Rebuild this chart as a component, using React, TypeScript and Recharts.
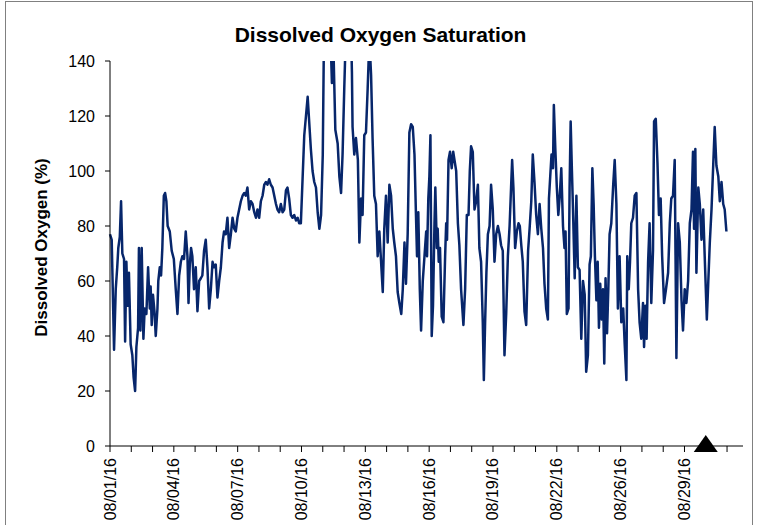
import { Line, LineChart, ReferenceDot, XAxis, YAxis } from "recharts"

// time in days since 08/01/16 00:00
const days = [
    0.00, 0.08, 0.19, 0.27, 0.34, 0.39, 0.46, 0.52, 0.58, 0.66, 0.71, 0.77, 0.83, 0.89, 0.97, 1.05, 1.11, 1.18, 1.24, 1.32,
    1.36, 1.43, 1.49, 1.57, 1.63, 1.71, 1.79, 1.87, 1.91, 1.96, 2.02, 2.09, 2.15, 2.23, 2.27, 2.34, 2.40, 2.46, 2.53, 2.59,
    2.65, 2.71, 2.81, 2.90, 3.00, 3.09, 3.17, 3.25, 3.33, 3.40, 3.48, 3.56, 3.64, 3.69, 3.75, 3.81, 3.87, 3.95, 4.03, 4.11,
    4.19, 4.27, 4.34, 4.42, 4.50, 4.58, 4.66,
    4.74, 4.82, 4.89, 4.97, 5.05, 5.13, 5.21, 5.29, 5.36, 5.44, 5.52, 5.60, 5.68, 5.76, 5.84, 5.91, 5.99, 6.07, 6.15, 6.23,
    6.31, 6.38, 6.46, 6.54, 6.62, 6.70, 6.78, 6.86, 6.93, 7.01, 7.09, 7.17, 7.25, 7.33, 7.40, 7.48, 7.56, 7.64, 7.72, 7.80,
    7.87, 7.95, 8.03, 8.11, 8.19, 8.27, 8.34, 8.42, 8.50, 8.58, 8.66, 8.74, 8.82, 8.89, 8.97, 9.05, 9.13, 9.21, 9.29,
    9.44, 9.52, 9.60, 9.68, 9.76, 9.84, 9.92, 10.00, 10.05, 10.15, 10.28, 10.36, 10.43, 10.50, 10.59, 10.70, 10.78, 10.86,
    10.93, 11.01, 11.09, 11.22, 11.33, 11.37, 11.40, 11.48, 11.56, 11.65, 11.72, 11.80, 11.87, 11.95, 12.03, 12.11, 12.19,
    12.27, 12.34, 12.42, 12.50, 12.58, 12.66, 12.74, 12.82, 12.89, 12.97, 13.05, 13.13, 13.21, 13.29, 13.36, 13.44, 13.52,
    13.60, 13.69, 13.76, 13.84, 13.91, 13.99, 14.07, 14.15, 14.23, 14.31,
    14.38, 14.43, 14.49, 14.56, 14.62, 14.70, 14.78, 14.86, 14.90, 14.96, 15.01, 15.06, 15.12, 15.18, 15.25, 15.29, 15.36,
    15.40, 15.45, 15.51, 15.59, 15.67, 15.75, 15.80, 15.84, 15.91, 15.98, 16.06, 16.13, 16.19, 16.27, 16.35, 16.42, 16.50,
    16.61, 16.69, 16.77, 16.85, 16.91, 16.97, 17.05, 17.13, 17.21, 17.29, 17.36, 17.44, 17.52, 17.57, 17.63, 17.69, 17.76,
    17.84, 17.91, 17.99, 18.07, 18.15, 18.23, 18.31, 18.38, 18.46, 18.54, 18.62, 18.70, 18.78, 18.85, 18.90, 18.96, 19.04,
    19.12, 19.20, 19.26,
    19.33, 19.40, 19.48, 19.56, 19.65, 19.72, 19.80, 19.87, 19.95, 20.03, 20.11, 20.19, 20.27, 20.35, 20.42, 20.50, 20.58,
    20.63, 20.69, 20.75, 20.82, 20.86, 20.93, 21.00, 21.07, 21.13, 21.21, 21.29, 21.36, 21.41, 21.47, 21.55, 21.60, 21.65,
    21.71, 21.76, 21.84, 21.92, 21.99, 22.07, 22.15, 22.23, 22.31, 22.38, 22.46, 22.54, 22.60, 22.67, 22.73, 22.79, 22.86,
    22.92, 22.98, 23.04, 23.11, 23.17, 23.23, 23.29, 23.36, 23.42, 23.48, 23.56, 23.65, 23.72, 23.80, 23.87, 23.95, 24.03,
    24.12, 24.19, 24.27,
    24.31, 24.38, 24.44, 24.50, 24.58, 24.66, 24.74, 24.82, 24.89, 24.97, 25.05, 25.10, 25.16, 25.22, 25.29, 25.36, 25.44,
    25.52, 25.57, 25.65, 25.73, 25.80, 25.88, 25.95, 26.04, 26.13, 26.23, 26.31, 26.38, 26.46, 26.54, 26.62, 26.70, 26.78,
    26.86, 26.93, 27.01, 27.09, 27.17, 27.25, 27.33, 27.40, 27.45, 27.51, 27.56, 27.65, 27.72, 27.80, 27.88, 27.95, 28.05,
    28.12, 28.19, 28.27, 28.35, 28.42, 28.50, 28.59, 28.66, 28.74, 28.82, 28.89, 28.97,
]

// dissolved oxygen saturation (%)
const saturation = [
    77, 75, 35, 57, 65, 72, 76, 89, 70, 68, 38, 67, 51, 63, 37, 33, 25, 20, 36, 43,
    72, 42, 72, 39, 50, 48, 65, 50, 58, 44, 55, 49, 40, 50, 60, 65, 62, 72, 91, 92,
    89, 80, 78, 71, 68, 57, 48, 62, 67, 69, 68, 78, 69, 52, 66, 72, 69, 57, 65, 49,
    60, 61, 62, 71, 75, 65, 50,
    57, 67, 65, 66, 54, 60, 65, 74, 78, 77, 83, 72, 77, 83, 79, 78, 83, 86, 89, 91,
    92, 91, 94, 86, 89, 88, 85, 83, 86, 83, 89, 91, 95, 96, 95, 97, 95, 94, 91, 88,
    86, 85, 88, 85, 86, 93, 94, 90, 84, 83, 84, 82, 83, 81, 81, 97, 113, 120, 127,
    108, 100, 96, 94, 85, 79, 84, 106, 145, 158, 162, 150, 132, 145, 115, 110, 98, 92,
    106, 130, 152, 168, 150, 136, 116, 106, 112, 104, 74, 90, 84, 113, 114, 130, 148,
    135, 112, 91, 88, 69, 78, 67, 56, 79, 91, 74, 95, 91, 79, 74, 69, 56,
    52, 48, 57, 74, 59, 77, 114, 117, 116, 106,
    84, 69, 85, 57, 42, 60, 69, 78, 69, 90, 98, 113, 40, 51, 81, 94, 72,
    79, 67, 72, 47, 45, 69, 81, 75, 104, 107, 101, 107, 104, 100, 81, 73, 57,
    44, 57, 84, 84, 100, 109, 107, 86, 89, 95, 72, 67, 45, 24, 45, 63, 77,
    80, 95, 86, 67, 77, 80, 77, 73, 71, 33, 48, 69, 80, 94, 104, 94, 72,
    78, 81, 80,
    73, 67, 49, 44, 71, 79, 89, 106, 96, 84, 77, 88, 79, 72, 59, 50, 46,
    90, 98, 106, 101, 124, 108, 94, 84, 90, 101, 80, 72, 78, 48, 50, 94, 118,
    100, 86, 61, 91, 65, 64, 39, 60, 55, 27, 33, 66, 69, 101, 88, 69, 53,
    67, 43, 59, 46, 57, 30, 61, 41, 57, 77, 81, 95, 104, 88, 50, 69, 45,
    50, 37, 24,
    69, 57, 67, 81, 83, 91, 92, 57, 45, 39, 52, 36, 51, 39, 67, 81, 52,
    71, 118, 119, 103, 84, 90, 69, 52, 57, 63, 81, 90, 91, 104, 32, 81, 74,
    53, 42, 57, 52, 60, 81, 86, 107, 79, 108, 63, 94, 88, 75, 86, 69, 46,
    60, 74, 86, 102, 116, 102, 98, 89, 96, 88, 86, 78,
]

const dayTicks = Array.from({ length: 30 }, (_, i) => i)
const tickLabels = ["08/01/16", "08/04/16", "08/07/16", "08/10/16", "08/13/16", "08/16/16", "08/19/16", "08/22/16", "08/26/16", "08/29/16"]
const yTicks = [0, 20, 40, 60, 80, 100, 120, 140]
const markerDay = 28

const data = days.map((d, i) => ({ day: d, value: saturation[i] }))

const font = "'Liberation Sans', Arial, sans-serif"

const DateTick = (props: any) => {
    const { x, y, payload } = props
    const idx = payload.value / 3
    if (!Number.isInteger(idx) || !tickLabels[idx]) return <g />
    return (
        <text
            x={x}
            y={y}
            transform={`rotate(-90 ${x} ${y})`}
            textAnchor="end"
            dominantBaseline="central"
            fontSize={16}
            fontFamily={font}
            fill="#000"
        >
            {tickLabels[idx]}
        </text>
    )
}

export default function App() {
    return (
        <div style={{ position: "relative", width: 765, height: 525, background: "#fff", overflow: "hidden" }}>
            <style>{`body{margin:0;overflow:hidden}`}</style>
            <div
                style={{
                    position: "absolute",
                    left: 5,
                    top: 1,
                    width: 746,
                    height: 560,
                    borderTop: "1px solid #808080",
                    borderLeft: "1px solid #808080",
                    borderRight: "1px solid #808080",
                }}
            />
            <div
                style={{
                    position: "absolute",
                    left: 0,
                    top: 23,
                    width: 761,
                    textAlign: "center",
                    fontFamily: font,
                    fontWeight: "bold",
                    fontSize: 21,
                    lineHeight: "24px",
                    color: "#000",
                }}
            >
                Dissolved Oxygen Saturation
            </div>
            <div style={{ position: "absolute", left: 0, top: 0 }}>
                <LineChart width={765} height={525} data={data} margin={{ top: 61, right: 22, bottom: 0, left: 0 }}>
                    <XAxis
                        dataKey="day"
                        type="number"
                        domain={[0, 29.75]}
                        ticks={dayTicks}
                        interval={0}
                        height={79}
                        tickSize={6}
                        tickMargin={6}
                        stroke="#000"
                        tick={<DateTick />}
                    />
                    <YAxis
                        domain={[0, 140]}
                        ticks={yTicks}
                        allowDataOverflow
                        width={110}
                        tickSize={5}
                        tickMargin={10}
                        stroke="#000"
                        tick={{ fontSize: 16, fontFamily: font, fill: "#000" }}
                        label={{
                            content: (p: any) => {
                                const vb = p.viewBox || { x: 0, y: 61, height: 385 }
                                const cx = vb.x + 41
                                const cy = vb.y + vb.height / 2 - 6
                                return (
                                    <text
                                        x={cx}
                                        y={cy}
                                        transform={`rotate(-90 ${cx} ${cy})`}
                                        textAnchor="middle"
                                        dominantBaseline="central"
                                        fontSize={17}
                                        fontWeight="bold"
                                        fontFamily={font}
                                        fill="#000"
                                    >
                                        Dissolved Oxygen (%)
                                    </text>
                                )
                            },
                        }}
                    />
                    <Line
                        type="linear"
                        dataKey="value"
                        stroke="#07266b"
                        strokeWidth={2.5}
                        strokeLinejoin="round"
                        dot={false}
                        isAnimationActive={false}
                    />
                    <ReferenceDot
                        x={markerDay}
                        y={0}
                        ifOverflow="visible"
                        shape={(p: any) => (
                            <polygon
                                points={`${p.cx},${p.cy - 11} ${p.cx - 12},${p.cy + 6} ${p.cx + 12},${p.cy + 6}`}
                                fill="#000"
                            />
                        )}
                    />
                </LineChart>
            </div>
        </div>
    )
}
